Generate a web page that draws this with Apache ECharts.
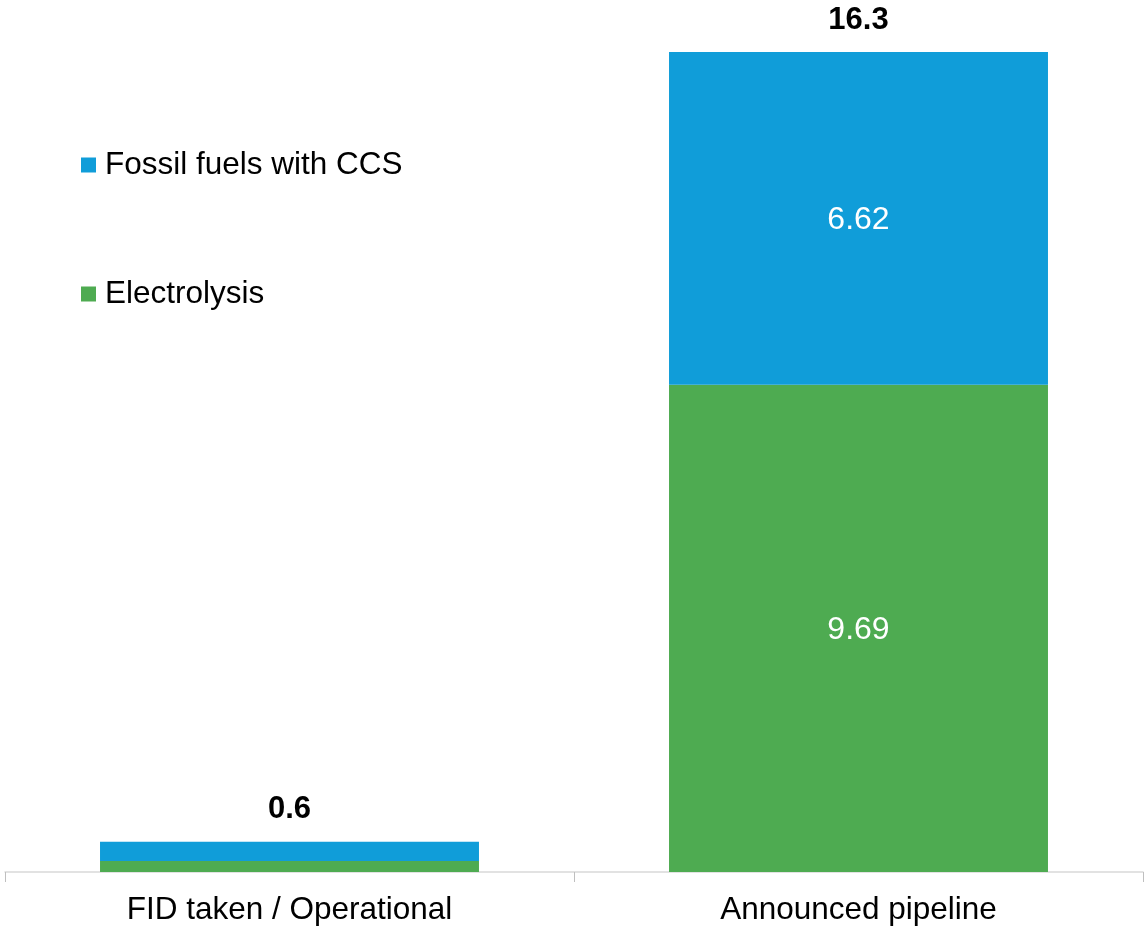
<!DOCTYPE html>
<html>
<head>
<meta charset="utf-8">
<style>
  html, body { margin: 0; padding: 0; background: #ffffff; }
  #chart { width: 1145px; height: 927px; }
</style>
<script src="https://cdn.jsdelivr.net/npm/echarts@6/dist/echarts.min.js"></script>
</head>
<body>
<div id="chart"></div>
<script>
// Hydrogen production capacity by status (Mt)
const categories = ['FID taken / Operational', 'Announced pipeline'];
const electrolysis = [0.22, 9.69];
const fossilCCS = [0.38, 6.62];
const totals = [0.6, 16.3];
// only the large bar carries inner value labels
const showInner = [false, true];

const FONT = '"Liberation Sans", Arial, sans-serif';

const innerLabel = {
  show: true,
  position: 'inside',
  color: '#ffffff',
  fontFamily: FONT,
  fontSize: 32,
  offset: [0, 2],
  formatter: p => p.value.toFixed(2)
};

function withLabels(values) {
  return values.map((v, i) => ({
    value: v,
    label: showInner[i] ? innerLabel : { show: false }
  }));
}

const chart = echarts.init(document.getElementById('chart'), null, { renderer: 'canvas' });

chart.setOption({
  animation: false,
  backgroundColor: '#ffffff',
  textStyle: { fontFamily: FONT },
  grid: { left: 5, right: 2, top: 52, bottom: 55, containLabel: false },
  legend: {
    orient: 'vertical',
    left: 76,
    top: 144,
    itemWidth: 15,
    itemHeight: 15,
    itemGap: 97,
    icon: 'rect',
    data: ['Fossil fuels with CCS', 'Electrolysis'],
    textStyle: {
      fontFamily: FONT, fontSize: 31.5, lineHeight: 32,
      color: '#000000', padding: [0, 0, 0, 4]
    }
  },
  xAxis: {
    type: 'category',
    data: categories,
    axisLine: { show: true, lineStyle: { color: '#d9d9d9', width: 1.5 } },
    axisTick: { show: true, length: 10, alignWithLabel: false, lineStyle: { color: '#bfbfbf' } },
    axisLabel: { color: '#000000', fontFamily: FONT, fontSize: 31.5, margin: 22 }
  },
  yAxis: {
    type: 'value',
    min: 0,
    max: 16.31,
    show: false,
    splitLine: { show: false }
  },
  series: [
    {
      name: 'Electrolysis',
      type: 'bar',
      stack: 'capacity',
      barWidth: '66.6%',
      itemStyle: { color: '#4eab51' },
      data: withLabels(electrolysis)
    },
    {
      name: 'Fossil fuels with CCS',
      type: 'bar',
      stack: 'capacity',
      barWidth: '66.6%',
      itemStyle: { color: '#109dd9' },
      data: withLabels(fossilCCS)
    },
    {
      name: 'Total',
      type: 'scatter',
      symbolSize: 0,
      silent: true,
      itemStyle: { color: '#000000', opacity: 1 },
      data: totals,
      label: {
        show: true,
        position: 'top',
        distance: 17,
        color: '#000000',
        opacity: 1,
        textBorderWidth: 0,
        fontFamily: FONT,
        fontWeight: 'bold',
        fontSize: 31,
        formatter: p => p.value.toFixed(1)
      }
    }
  ]
});
</script>
</body>
</html>
